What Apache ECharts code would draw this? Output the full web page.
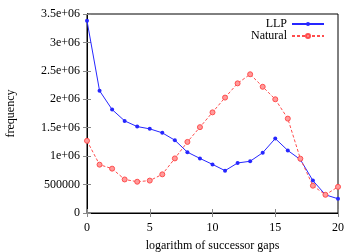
<!DOCTYPE html>
<html><head><meta charset="utf-8">
<script src="https://cdn.jsdelivr.net/npm/echarts@6/dist/echarts.min.js"></script>
<style>html,body{margin:0;padding:0;background:#fff}#c{width:360px;height:252px}</style>
</head><body><div id="c"></div>
<script>
const xValues = [0,1,2,3,4,5,6,7,8,9,10,11,12,13,14,15,16,17,18,19,20];
const llp = [3380000,2150000,1820000,1620000,1520000,1480000,1410000,1280000,1070000,960000,855000,745000,880000,910000,1060000,1310000,1100000,940000,570000,320000,250000];
const natural = [1270000,850000,780000,590000,550000,570000,680000,960000,1250000,1510000,1770000,2030000,2280000,2440000,2220000,2000000,1660000,955000,480000,320000,460000];
const yTicks = ['0','500000','1e+06','1.5e+06','2e+06','2.5e+06','3e+06','3.5e+06'];
const font = 'Liberation Serif';
const chart = echarts.init(document.getElementById('c'), null, {renderer:'canvas'});
const axisBase = {
  axisLine:{show:true,lineStyle:{color:'#000',width:1}},
  axisTick:{show:true,inside:true,length:4,lineStyle:{color:'#888'}},
  splitLine:{show:false}
};
chart.setOption({
  animation:false,
  textStyle:{fontFamily:font},
  grid:{left:87,right:22,top:14,bottom:39,show:true,borderColor:'#000',borderWidth:1,
        containLabel:false,outerBoundsMode:'none'},
  legend:[
    {data:['LLP'],orient:'vertical',right:35,top:18,align:'right',itemWidth:32,itemHeight:5,
     textStyle:{fontFamily:font,fontSize:12,color:'#000'},padding:0},
    {data:['Natural'],orient:'vertical',right:35,top:30,align:'right',itemWidth:32,itemHeight:5,
     textStyle:{fontFamily:font,fontSize:12,color:'#000'},padding:0}
  ],
  xAxis:[
    Object.assign({type:'value',min:0,max:20,interval:5,position:'bottom',
      name:'logarithm of successor gaps',nameLocation:'middle',nameGap:27,
      nameTextStyle:{fontFamily:font,fontSize:12,color:'#000'},
      axisLabel:{fontFamily:font,fontSize:12,color:'#000',margin:9}},axisBase),
    Object.assign({type:'value',min:0,max:20,interval:5,position:'top',axisLabel:{show:false}},axisBase)
  ],
  yAxis:[
    Object.assign({type:'value',min:0,max:3500000,interval:500000,position:'left',
      name:'frequency',nameLocation:'middle',nameGap:70,
      nameTextStyle:{fontFamily:font,fontSize:12,color:'#000'},
      axisLabel:{fontFamily:font,fontSize:12,color:'#000',margin:7,
        formatter:function(v){return yTicks[Math.round(v/500000)];}}},axisBase),
    Object.assign({type:'value',min:0,max:3500000,interval:500000,position:'right',axisLabel:{show:false}},axisBase)
  ],
  series:[
    {name:'LLP',type:'line',data:xValues.map((x,i)=>[x,llp[i]]),
     symbol:'circle',symbolSize:4,showSymbol:true,
     lineStyle:{color:'#2626ff',width:1},itemStyle:{color:'#2626ff',borderWidth:0}},
    {name:'Natural',type:'line',data:xValues.map((x,i)=>[x,natural[i]]),
     symbol:'circle',symbolSize:5,showSymbol:true,
     lineStyle:{color:'#ff4d4d',width:1,type:[3,2]},
     itemStyle:{color:'#ff9a9a',borderColor:'#ff4d4d',borderWidth:1}}
  ]
});
</script></body></html>
